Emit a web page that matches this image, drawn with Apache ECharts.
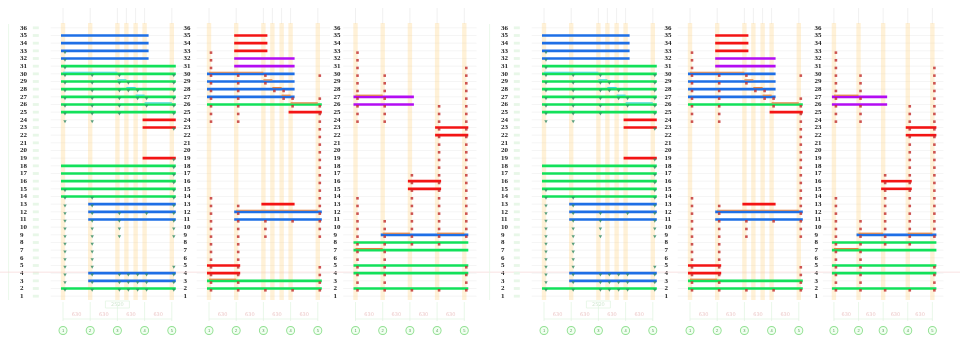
<!DOCTYPE html>
<html>
<head>
<meta charset="utf-8">
<script src="https://cdn.jsdelivr.net/npm/echarts@6/dist/echarts.min.js"></script>
<style>
html, body { margin: 0; padding: 0; background: #ffffff; }
#c { width: 960px; height: 347px; }
</style>
</head>
<body>
<div id="c"></div>
<script>
// Floor numbers shown on the row scales
const rowLabels = ['1','2','3','4','5','6','7','8','9','10','11','12','13','14','15','16','17','18',
  '19','20','21','22','23','24','25','26','27','28','29','30','31','32','33','34','35','36'];
// Axis names shown in the bubbles under each elevation
const axisNames = ['1', '2', '3', '4', '5'];
// Bay dimensions and overall length
const bayDims = ['630', '630', '630', '630'];
const totalDim = '2520';

// Column lines of each elevation (axis positions, two extra lines inside bay 3-4)
const colsA = [1, 2, 3, 3.33, 3.67, 4, 5];
const colsB = [1, 2, 3, 3.33, 3.67, 4, 5];
const colsC = [1, 2, 3, 4, 5];

// Beams: [floor, from axis, to axis, kind]  G green, B blue, R red, P purple
const beamsA = [
  [35, 1, 4, 'B'], [34, 1, 4, 'B'], [33, 1, 4, 'B'], [32, 1, 4, 'B'],
  [31, 1, 5, 'G'], [30, 1, 5, 'G'], [29, 1, 5, 'G'], [28, 1, 5, 'G'],
  [27, 1, 5, 'G'], [26, 1, 5, 'G'], [25, 1, 5, 'G'],
  [24, 4, 5, 'R'], [23, 4, 5, 'R'], [19, 4, 5, 'R'],
  [18, 1, 5, 'G'], [17, 1, 5, 'G'], [16, 1, 5, 'G'], [15, 1, 5, 'G'], [14, 1, 5, 'G'],
  [13, 2, 5, 'B'], [12, 2, 5, 'B'], [11, 2, 5, 'B'],
  [4, 2, 5, 'B'], [3, 2, 5, 'B'], [2, 1, 5, 'G']
];
const beamsB = [
  [35, 2, 3, 'R'], [34, 2, 3, 'R'], [33, 2, 3, 'R'],
  [32, 2, 4, 'P'], [31, 2, 4, 'P'],
  [30, 1, 4, 'B'], [29, 1, 4, 'B'], [28, 1, 4, 'B'], [27, 1, 4, 'B'],
  [26, 1, 5, 'G'], [25, 4, 5, 'R'],
  [13, 3, 4, 'R'], [12, 2, 5, 'B'], [11, 2, 5, 'B'],
  [5, 1, 2, 'R'], [4, 1, 2, 'R'], [3, 1, 5, 'G'], [2, 1, 5, 'G']
];
const beamsC = [
  [27, 1, 3, 'P'], [26, 1, 3, 'P'],
  [23, 4, 5, 'R'], [22, 4, 5, 'R'],
  [16, 3, 4, 'R'], [15, 3, 4, 'R'],
  [9, 2, 5, 'B'],
  [8, 1, 5, 'G'], [7, 1, 5, 'G'], [5, 1, 5, 'G'], [4, 1, 5, 'G'], [2, 1, 5, 'G']
];

// Thin edge strips along beams: [floor, from axis, to axis]
const trimsA = [[30, 1, 3], [29, 3, 3.33], [28, 3.33, 3.67], [27, 3.67, 4], [26, 4, 5]];
const trimsB = [[30, 1, 3], [29, 3, 3.33], [28, 3.33, 3.67], [27, 3.67, 4], [26, 4, 5], [12, 2, 5], [3, 1, 2]];
const trimsC = [[27, 1, 2], [9, 2, 3], [9, 4, 5], [7, 1, 2]];

// Column marks: [floor, axes carrying a mark]
const marksA = [
  [33, [1]], [32, [1]], [31, [1]],
  [30, [1, 2, 3, 5]], [29, [1, 2, 3, 3.33, 5]], [28, [1, 2, 3, 3.33, 3.67, 5]],
  [27, [1, 2, 3, 3.67, 4, 5]], [26, [1, 2, 3, 4, 5]], [25, [1, 2, 3, 5]],
  [24, [1, 2]], [23, [5]], [19, [5]], [18, [5]], [17, [5]], [16, [5]],
  [15, [1, 5]], [14, [1, 2, 5]], [13, [1, 2, 5]], [12, [1, 2, 3, 4, 5]],
  [11, [1, 2, 3, 5]], [10, [1, 2, 3, 5]], [9, [1, 2, 3, 5]],
  [8, [1, 2]], [7, [1, 2]], [6, [1, 2]], [5, [1, 2, 5]],
  [4, [1, 2, 3, 3.33, 3.67, 4, 5]], [3, [1, 2, 3, 3.33, 3.67, 4, 5]], [2, [1, 2, 3, 3.33, 3.67, 4, 5]]
];
const marksB = [
  [33, [1]], [32, [1]], [31, [1]],
  [30, [1, 2, 3, 5]], [29, [1, 2, 3]], [28, [1, 2, 3.33, 3.67]],
  [27, [1, 2, 3.67, 4, 5]], [26, [1, 2, 4, 5]], [25, [1, 2, 5]],
  [24, [1, 2, 5]], [23, [5]], [22, [5]], [21, [5]], [20, [5]], [19, [5]], [18, [5]],
  [17, [5]], [16, [5]], [15, [5]], [14, [1, 5]], [13, [1, 2, 5]], [12, [1, 2, 5]],
  [11, [1, 2, 3, 4, 5]], [10, [1, 2, 3, 5]], [9, [1, 2, 3, 5]],
  [8, [1, 2]], [7, [1, 2]], [6, [1, 2]], [5, [1, 2, 5]], [4, [1, 2, 5]], [3, [1, 2, 5]],
  [2, [1, 2, 3, 4, 5]]
];
const marksC = [
  [33, [1]], [32, [1]], [31, [1, 5]], [30, [1, 2, 5]], [29, [1, 2, 5]], [28, [1, 2, 5]],
  [27, [1, 2, 5]], [26, [1, 2, 4, 5]], [25, [1, 2, 4, 5]], [24, [1, 2, 4, 5]],
  [23, [4, 5]], [22, [4, 5]], [21, [4, 5]], [20, [4, 5]], [19, [4, 5]], [18, [4, 5]],
  [17, [3, 4, 5]], [16, [3, 4, 5]], [15, [3, 4, 5]],
  [14, [1, 3, 4, 5]], [13, [1, 3, 4, 5]], [12, [1, 3, 4, 5]],
  [11, [1, 2, 3, 4, 5]], [10, [1, 2, 3, 4, 5]], [9, [1, 2, 3, 4, 5]], [8, [1, 2, 3, 4]],
  [7, [1, 2]], [6, [1, 2]], [5, [1, 2, 5]], [4, [1, 2, 5]], [3, [1, 2, 5]], [2, [1, 2, 3, 4, 5]]
];

const beamColors = { G: '#12e15a', B: '#1e6fe6', R: '#f31414', P: '#b30cf3' };

// Layout of the three elevations; the sheet repeats them twice side by side
const UNIT = 27.2;
const TOP = 24;
const HEIGHT = 276;
const axisOneX = [63, 209, 355.5];
const labelX = [20, 183.5, 333.5];
const halfShift = [0, 481];

const panels = [
  { cols: colsA, beams: beamsA, trims: trimsA, marks: marksA, trimColor: '#3ed9d3',
    markColor: '#2f8a63', markSymbol: 'triangle', markRotate: 180, markSize: [3.4, 3], total: true },
  { cols: colsB, beams: beamsB, trims: trimsB, marks: marksB, trimColor: '#e3803e',
    markColor: '#c02a2a', markSymbol: 'rect', markRotate: 0, markSize: 2.6, total: false },
  { cols: colsC, beams: beamsC, trims: trimsC, marks: marksC, trimColor: '#e3803e',
    markColor: '#c02a2a', markSymbol: 'rect', markRotate: 0, markSize: 2.6, total: false }
];

const grid = [], xAxis = [], yAxis = [], series = [];

halfShift.forEach(function (shift, h) {
  panels.forEach(function (pn, p) {
    const k = h * 3 + p;
    const left = axisOneX[p] + shift - UNIT;
    grid.push({ left: left, top: TOP, width: UNIT * 6, height: HEIGHT });
    xAxis.push({
      gridIndex: k, type: 'value', min: 0, max: 6, interval: 1,
      axisLine: { show: false }, axisTick: { show: false }, splitLine: { show: false },
      axisLabel: {
        margin: 27.5,
        formatter: function (v) { return (v >= 1 && v <= 5) ? '{c|' + axisNames[v - 1] + '}' : ''; },
        rich: {
          c: { width: 6, height: 6, lineHeight: 6, borderRadius: 4, borderColor: '#92e092', borderWidth: 1,
               backgroundColor: '#f2fff2', fontSize: 4, color: '#5a9a5a', align: 'center', padding: 0.5 }
        }
      }
    });
    yAxis.push({
      gridIndex: k, type: 'category', data: rowLabels, boundaryGap: true,
      offset: left - (labelX[p] + shift),
      axisLine: { show: false }, axisTick: { show: false }, splitLine: { show: false },
      axisLabel: { show: true, interval: 0, margin: 0, align: 'left', fontFamily: 'Liberation Serif',
                   fontWeight: 'bold', fontSize: 7, color: '#1c1c1c', hideOverlap: false }
    });

    // faint floor lines
    series.push({
      type: 'custom', xAxisIndex: k, yAxisIndex: k, silent: true, z: 1,
      data: rowLabels.map(function (_, i) { return [0.6, i]; }),
      renderItem: function (params, api) {
        const i = api.value(1);
        const a = api.coord([0.55, i]);
        const b = api.coord([5.45, i]);
        return { type: 'line', shape: { x1: a[0], y1: a[1], x2: b[0], y2: b[1] },
                 style: { stroke: '#efefef', lineWidth: 0.6 } };
      }
    });

    // column bands
    series.push({
      type: 'custom', xAxisIndex: k, yAxisIndex: k, silent: true, z: 2,
      data: pn.cols.map(function (c) { return [c, 0]; }),
      renderItem: function (params, api) {
        const x = api.coord([api.value(0), 0])[0];
        const cs = params.coordSys;
        return { type: 'group', children: [
          { type: 'line', shape: { x1: x, y1: cs.y - 16, x2: x, y2: cs.y }, style: { stroke: '#ececec', lineWidth: 0.8 } },
          { type: 'rect', shape: { x: x - 2.2, y: cs.y - 1, width: 4.4, height: cs.height + 1 },
            style: { fill: 'rgba(255, 210, 130, 0.32)' } }
        ] };
      }
    });

    // sheet annotations: dimension lines, bay sizes, margin tags
    series.push({
      type: 'custom', xAxisIndex: k, yAxisIndex: k, silent: true, z: 1,
      data: [[3, 0]],
      renderItem: function (params, api) {
        const cs = params.coordSys;
        const bottom = cs.y + cs.height;
        const kids = [];
        const xs = axisNames.map(function (_, n) { return api.coord([n + 1, 0])[0]; });
        xs.forEach(function (x) {
          kids.push({ type: 'line', shape: { x1: x, y1: bottom + 2, x2: x, y2: bottom + 21 },
                      style: { stroke: '#e0f3e0', lineWidth: 0.7 } });
        });
        kids.push({ type: 'line', shape: { x1: xs[0], y1: bottom + 19, x2: xs[4], y2: bottom + 19 },
                    style: { stroke: '#e0f3e0', lineWidth: 0.7 } });
        bayDims.forEach(function (t, n) {
          kids.push({ type: 'text', x: (xs[n] + xs[n + 1]) / 2, y: bottom + 15,
                      style: { text: t, fontSize: 5, fill: '#edcaca', align: 'center', verticalAlign: 'middle',
                               fontFamily: 'DejaVu Sans' } });
        });
        if (pn.total) {
          kids.push({ type: 'rect', shape: { x: xs[2] - 12, y: bottom + 1, width: 24, height: 7 },
                      style: { fill: 'none', stroke: '#e0f3e0', lineWidth: 0.7 } });
          kids.push({ type: 'text', x: xs[2], y: bottom + 4.5,
                      style: { text: totalDim, fontSize: 5, fill: '#d3e8d3', align: 'center', verticalAlign: 'middle',
                               fontFamily: 'DejaVu Sans' } });
          const x0 = api.coord([0, 0])[0];
          const xm = api.coord([-1, 0])[0];
          kids.push({ type: 'line', shape: { x1: xm, y1: cs.y, x2: xm, y2: bottom },
                      style: { stroke: '#e4f6e4', lineWidth: 0.8 } });
          rowLabels.forEach(function (_, i) {
            const y = api.coord([0, i])[1];
            kids.push({ type: 'rect', shape: { x: x0 - 3, y: y - 1.4, width: 6, height: 2.8 },
                        style: { fill: '#e8f7e8' } });
          });
        }
        if (k === 0) {
          const y4 = api.coord([0, 3])[1] - 1;
          kids.push({ type: 'line', shape: { x1: 0, y1: y4, x2: api.getWidth(), y2: y4 },
                      style: { stroke: '#f6d6d6', lineWidth: 0.7 } });
        }
        return { type: 'group', children: kids };
      }
    });

    // beams
    series.push({
      type: 'custom', xAxisIndex: k, yAxisIndex: k, silent: true, z: 5,
      data: pn.beams.map(function (d) { return [d[1], d[0] - 1, d[2]]; }),
      encode: { x: [0, 2], y: 1 },
      renderItem: function (params, api) {
        const d = pn.beams[params.dataIndex];
        const a = api.coord([d[1], d[0] - 1]);
        const b = api.coord([d[2], d[0] - 1]);
        return { type: 'line', shape: { x1: a[0] - 2, y1: a[1], x2: b[0] + 4, y2: b[1] },
                 style: { stroke: beamColors[d[3]], lineWidth: 2.6 } };
      }
    });

    // edge strips
    series.push({
      type: 'custom', xAxisIndex: k, yAxisIndex: k, silent: true, z: 6,
      data: pn.trims.map(function (d) { return [d[1], d[0] - 1, d[2]]; }),
      encode: { x: [0, 2], y: 1 },
      renderItem: function (params, api) {
        const d = pn.trims[params.dataIndex];
        const a = api.coord([d[1], d[0] - 1]);
        const b = api.coord([d[2], d[0] - 1]);
        return { type: 'line', shape: { x1: a[0], y1: a[1] - 1.6, x2: b[0], y2: b[1] - 1.6 },
                 style: { stroke: pn.trimColor, lineWidth: 1.2 } };
      }
    });

    // column marks
    const pts = [];
    pn.marks.forEach(function (m) { m[1].forEach(function (c) { pts.push([c, m[0] - 1]); }); });
    series.push({
      type: 'scatter', xAxisIndex: k, yAxisIndex: k, silent: true, z: 7,
      symbol: pn.markSymbol, symbolRotate: pn.markRotate, symbolSize: pn.markSize,
      symbolOffset: [2, 1.8],
      itemStyle: { color: pn.markColor },
      data: pts
    });
  });
});

const chart = echarts.init(document.getElementById('c'));
chart.setOption({
  animation: false,
  backgroundColor: '#ffffff',
  grid: grid,
  xAxis: xAxis,
  yAxis: yAxis,
  series: series
});
</script>
</body>
</html>
